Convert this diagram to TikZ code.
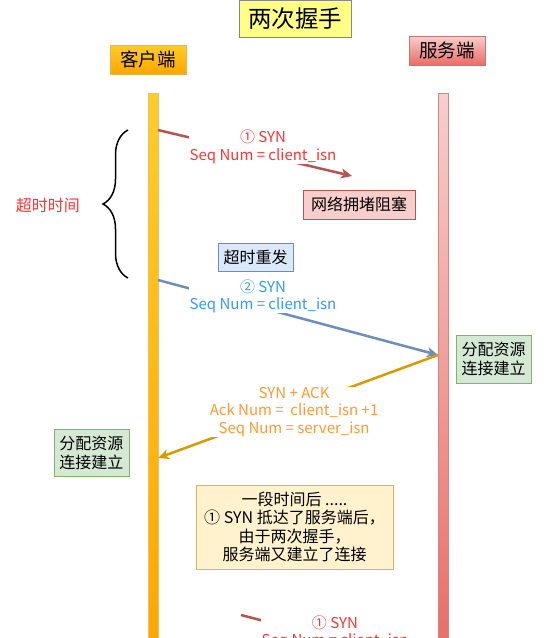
\documentclass[tikz,border=0pt]{standalone}
\usepackage{fontspec}
\setmainfont{Noto Sans CJK SC}
\usepackage{tikz}
\usetikzlibrary{arrows.meta, positioning, decorations.pathreplacing}
\definecolor{titleY}{HTML}{FFFF88}
\definecolor{titleB}{HTML}{36393D}
\definecolor{cliTop}{HTML}{FFCD28}
\definecolor{cliBot}{HTML}{FFA500}
\definecolor{cliB}{HTML}{D79B00}
\definecolor{srvTop}{HTML}{F8CECC}
\definecolor{srvBot}{HTML}{EA6B66}
\definecolor{srvB}{HTML}{B85450}
\definecolor{blueF}{HTML}{DAE8FC}
\definecolor{blueB}{HTML}{6C8EBF}
\definecolor{greenF}{HTML}{D5E8D4}
\definecolor{greenB}{HTML}{82B366}
\definecolor{noteF}{HTML}{FFF2CC}
\definecolor{noteB}{HTML}{D6B656}
\definecolor{txtRed}{HTML}{FF3333}
\definecolor{txtBlue}{HTML}{3399FF}
\definecolor{txtOrange}{HTML}{FF9933}

\begin{document}
\begin{tikzpicture}[x=1pt, y=-1pt, font=\fontsize{16}{19}\selectfont,
  >={Stealth[length=11pt, width=10pt, inset=3pt]},
  box/.style={draw, line width=0.8pt, align=center, inner sep=0pt},
  lifeline/.style={draw, line width=0.8pt, minimum width=10pt, minimum height=560pt, anchor=north, inner sep=0pt},
  msg/.style={->, line width=2.5pt},
  lbl/.style={align=center, fill=white, inner sep=0.5pt, font=\fontsize{15}{17.5}\selectfont}]
\useasboundingbox (0,0) rectangle (551,638);

% header
\node[box, fill=titleY, draw=titleB!60, minimum width=112pt, minimum height=37pt, font=\fontsize{23.5}{25}\selectfont] (title) at (295,18.5) {两次握手};
\node[box, top color=cliTop, bottom color=cliBot, draw=cliB!70, minimum width=76pt, minimum height=29pt, font=\fontsize{18.5}{20}\selectfont] (cli) at (148,59.5) {客户端};
\node[box, top color=srvTop, bottom color=srvBot, draw=srvB!80, minimum width=76pt, minimum height=29pt, font=\fontsize{18.5}{20}\selectfont] (srv) at (447,50.5) {服务端};

% lifelines
\node[lifeline, top color=cliTop, bottom color=cliBot, draw=cliB!60] (cline) at (153,93) {};
\node[lifeline, top color=srvTop, bottom color=srvBot, draw=srvB!70] (sline) at (443,93) {};

% points on the lifelines
\coordinate (syn1a) at (158,130);
\coordinate (syn1b) at (352,176);
\coordinate (syn2a) at (158,280);
\coordinate (syn2b) at (438,355);
\coordinate (acka) at (438,355);
\coordinate (ackb) at (158,458);
\coordinate (syn3a) at (241,615);
\coordinate (syn3b) at (430,664);

% timeout brace
\draw[decorate, decoration={brace, amplitude=25pt}, line width=1.5pt] (128,278) -- (128,130);
\node[text=txtRed] (tmo) at (48,205) {超时时间};

% boxes
\node[box, fill=srvTop, draw=srvB, minimum width=112pt, minimum height=29pt] (block) at (359,204.5) {网络拥堵阻塞};
\node[box, fill=blueF, draw=blueB, minimum width=75pt, minimum height=28pt] (resend) at (255.5,257) {超时重发};
\node[box, fill=greenF, draw=greenB, minimum width=75pt, minimum height=48pt] (srvok) at (493.5,359) {分配资源\\连接建立};
\node[box, fill=greenF, draw=greenB, minimum width=75pt, minimum height=47pt] (cliok) at (91.5,452.5) {分配资源\\连接建立};
\node[box, fill=noteF, draw=noteB, minimum width=197pt, minimum height=84pt, font=\fontsize{16}{18.5}\selectfont] (note) at (294.5,527)
  {一段时间后 .....\\① SYN 抵达了服务端后，\\由于两次握手，\\服务端又建立了连接};

% messages
\draw[msg, draw=srvB] (syn1a) -- node[lbl, text=txtRed, pos=0.5, xshift=8pt, yshift=6pt] (l1) {① SYN\\Seq Num = client\_isn} (syn1b);
\draw[msg, draw=blueB] (syn2a) -- node[lbl, text=txtBlue, pos=0.375, yshift=12pt] (l2) {② SYN\\Seq Num = client\_isn} (syn2b);
\draw[msg, draw=cliB] (acka) -- node[lbl, text=txtOrange, pos=0.514, yshift=-4pt] (l3) {SYN + ACK\\Ack Num =\ \ client\_isn +1\\Seq Num = server\_isn} (ackb);
\draw[msg, draw=srvB] (syn3a) -- node[lbl, text=txtRed, pos=0.497, yshift=7pt] (l4) {① SYN\\Seq Num = client\_isn} (syn3b);
\end{tikzpicture}
\end{document}
